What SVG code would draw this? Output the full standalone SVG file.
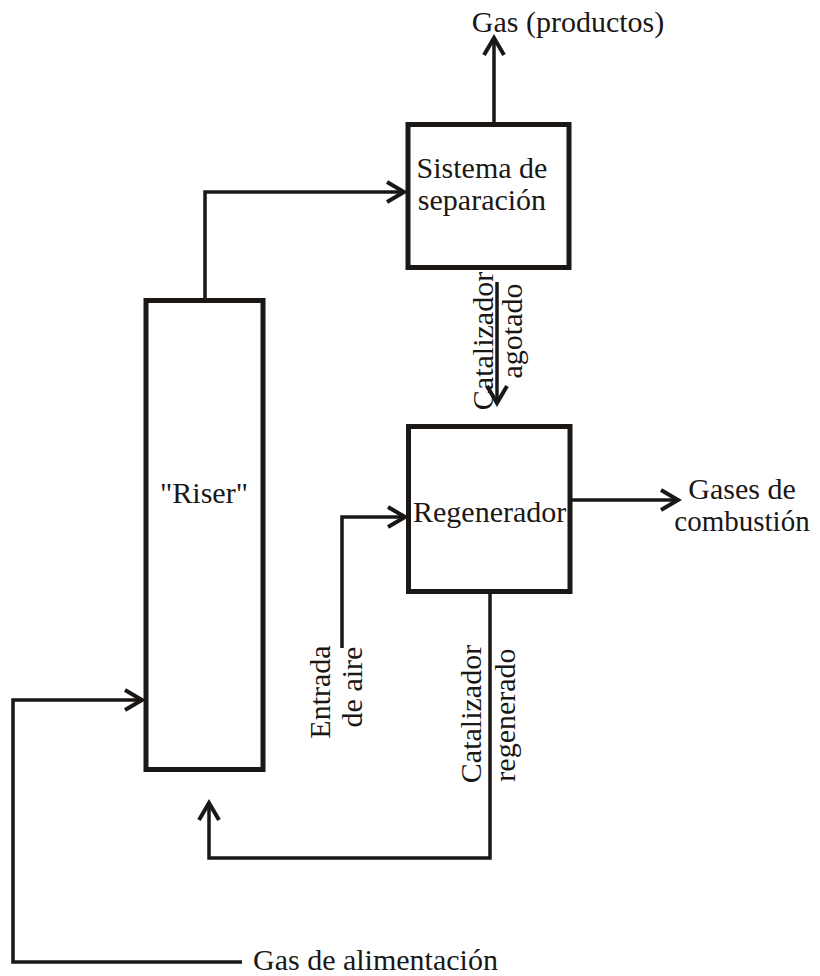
<svg xmlns="http://www.w3.org/2000/svg" width="820" height="976" viewBox="0 0 820 976">
<defs>
<marker id="ah" markerUnits="userSpaceOnUse" markerWidth="30" markerHeight="30" viewBox="-20 -15 30 30" refX="0" refY="0" orient="auto">
<path d="M-17,-10 L0,0 L-17,10" fill="none" stroke="#1a1715" stroke-width="4"/>
</marker>
</defs>
<style>
.box{fill:none;stroke:#1a1715;stroke-width:5}
.ln{fill:none;stroke:#1a1715;stroke-width:3.5;marker-end:url(#ah)}
.m{text-anchor:middle}
</style>
<rect width="820" height="976" fill="#fff"/>
<g id="connectors">
<polyline class="ln" points="205,300 205,192 404,192"/>
<polyline class="ln" points="494,122 494,38"/>
<polyline class="ln" points="497,282 497,403"/>
<polyline class="ln" points="342,648 342,517 405,517"/>
<polyline class="ln" points="572,500 678,500"/>
<polyline class="ln" points="490,594 490,858 209,858 209,803"/>
<polyline class="ln" points="242,962 13,962 13,700 142,700"/>
</g>
<g font-family="Liberation Serif, Tinos, Times New Roman, DejaVu Serif, serif" font-size="30" fill="#1a1715">
<g id="riser">
<rect class="box" x="146" y="300.5" width="117" height="469"/>
<text class="m" x="204" y="503">"Riser"</text>
</g>
<g id="separacion">
<rect class="box" x="408" y="124.5" width="161" height="143"/>
<text class="m" x="482" y="178">Sistema de</text>
<text class="m" x="482" y="210">separación</text>
</g>
<g id="regenerador">
<rect class="box" x="408.5" y="426.5" width="161.5" height="165"/>
<text x="413" y="522">Regenerador</text>
</g>
<g id="labels">
<text class="m" x="568" y="32">Gas (productos)</text>
<text class="m" transform="translate(493,341) rotate(-90)">Catalizador</text>
<text class="m" transform="translate(522,331) rotate(-90)">agotado</text>
<text class="m" x="742" y="499">Gases de</text>
<text class="m" x="742" y="531" font-size="29">combustión</text>
<text class="m" transform="translate(330,692) rotate(-90)">Entrada</text>
<text class="m" transform="translate(362,687) rotate(-90)">de aire</text>
<text class="m" transform="translate(481,714) rotate(-90)">Catalizador</text>
<text class="m" transform="translate(515,715) rotate(-90)">regenerado</text>
<text x="253" y="970">Gas de alimentación</text>
</g>
</g>
</svg>
